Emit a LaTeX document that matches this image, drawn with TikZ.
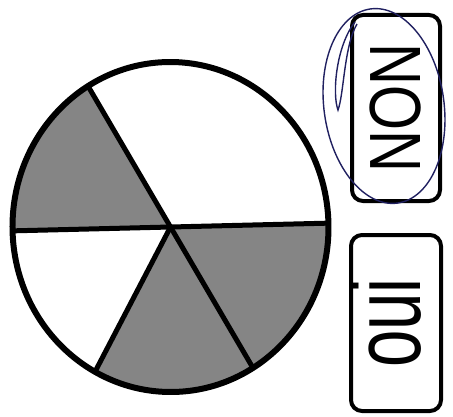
\documentclass[tikz,border=0pt]{standalone}
\usepackage{fontspec}
\setmainfont{Liberation Sans}
\definecolor{pencolor}{RGB}{32,32,96}
\begin{document}
\begin{tikzpicture}[
  x=1pt, y=1pt,
  slice/.style={fill=black!48},
  spoke/.style={line width=5pt},
  answer/.style={draw, line width=4pt, rounded corners=11pt, inner sep=0pt},
  pen/.style={draw=pencolor, line width=1.4pt}
]
\useasboundingbox (0,0) rectangle (453,416);
\coordinate (c) at (170.5,189);
\begin{scope}[rotate around={1.4:(c)}]
\foreach \a in {120,240,300}
  \fill[slice] (c) -- ++(\a:158 and 165) arc[start angle=\a, delta angle=60, x radius=158, y radius=165] -- cycle;
\foreach \a in {0,120,180,240,300}
  \draw[spoke] (c) -- ++(\a:158 and 165);
\draw[line width=6pt] (c) ellipse [x radius=158, y radius=165];
\end{scope}
\node[answer, minimum width=88pt, minimum height=186pt] (non) at (396,308)
  {\fontsize{72.6}{72}\selectfont\rotatebox{90}{\scalebox{0.8}[1]{NON}}};
\node[answer, minimum width=90pt, minimum height=176pt] (oui) at (396,93)
  {\fontsize{96}{96}\selectfont\rotatebox{90}{\scalebox{0.7}[1]{\raisebox{0pt}[0.52em][0pt]{oui}}}};
\coordinate (ring) at (384,310);
\draw[pen, rotate around={8:(ring)}] (ring) ellipse [x radius=60, y radius=98];
\draw[pen] (355,394) .. controls (336,370) and (332,322) .. (338,306)
  .. controls (344,322) and (344,370) .. (357,392);
\end{tikzpicture}
\end{document}
